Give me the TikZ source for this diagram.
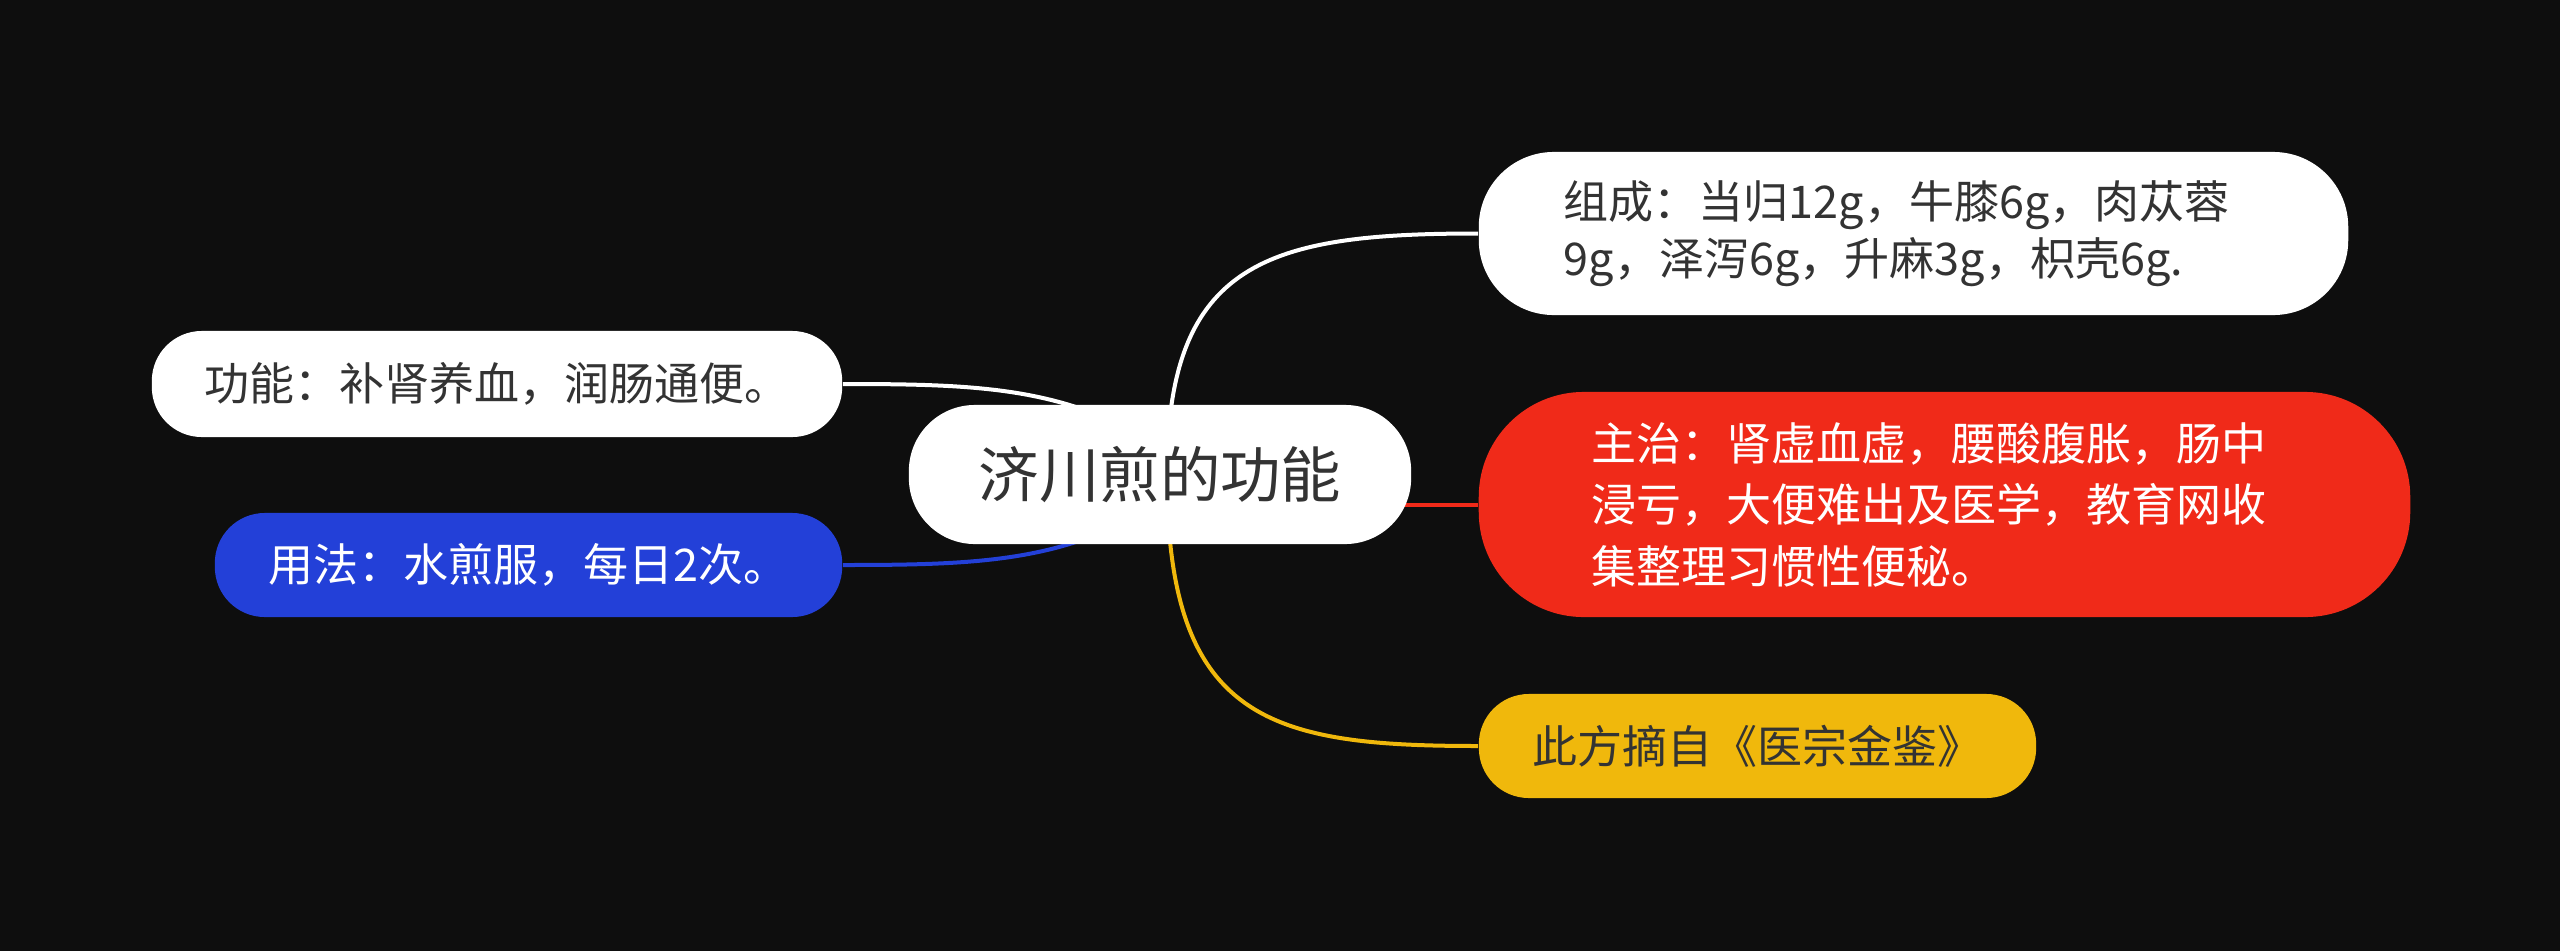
\documentclass[tikz,border=0pt]{standalone}
\usepackage{fontspec}
\setmainfont{Noto Sans CJK SC}
\usetikzlibrary{calc,backgrounds}

\definecolor{bgdark}{HTML}{0E0E0E}
\definecolor{inkgray}{HTML}{333333}
\definecolor{mapred}{HTML}{F02A19}
\definecolor{mapblue}{HTML}{2340D8}
\definecolor{mapyellow}{HTML}{F0B80C}

\begin{document}
\begin{tikzpicture}[
    x=0.01cm,
    y=-0.01cm,
    pill/.style={
        inner sep=0pt,
        rectangle,
        align=left,
        font=\fontsize{12.8pt}{17pt}\selectfont,
    },
    link/.style={
        line width=0.04cm,
    },
]
    % centre topic
    \node[pill,fill=white,text=inkgray,minimum width=5.02cm,minimum height=1.39cm,rounded corners=0.66cm,font=\fontsize{17.2pt}{20pt}\selectfont]
        (title) at (1160,474.5) {济川煎的功能};

    % right branches
    \node[pill,fill=white,text=inkgray,minimum width=8.69cm,minimum height=1.63cm,rounded corners=0.75cm,text width=6.99cm,font=\fontsize{12.8pt}{16.3pt}\selectfont]
        (recipe) at (1913.5,233.5) {组成：当归12g，牛膝6g，肉苁蓉\\9g，泽泻6g，升麻3g，枳壳6g.};
    \node[pill,fill=mapred,text=white,minimum width=9.31cm,minimum height=2.25cm,rounded corners=1.05cm,text width=7.05cm,font=\fontsize{12.8pt}{17.5pt}\selectfont]
        (cure) at (1944.5,504.5) {主治：肾虚血虚，腰酸腹胀，肠中\\浸亏，大便难出及医学，教育网收\\集整理习惯性便秘。};
    \node[pill,fill=mapyellow,text=inkgray,minimum width=5.57cm,minimum height=1.04cm,rounded corners=0.5cm]
        (source) at (1757.5,746) {此方摘自《医宗金鉴》};

    % left branches
    \node[pill,fill=white,text=inkgray,minimum width=6.9cm,minimum height=1.06cm,rounded corners=0.5cm]
        (effect) at (497,384) {功能：补肾养血，润肠通便。};
    \node[pill,fill=mapblue,text=white,minimum width=6.27cm,minimum height=1.04cm,rounded corners=0.5cm]
        (usage) at (528.5,565) {用法：水煎服，每日2次。};

    \begin{scope}[on background layer]
        \fill[bgdark] (0,0) rectangle (2560,951);
        \coordinate (hubR) at ($(title.center)+(7,0)$);
        \coordinate (hubNW) at ($(title.center)+(-40,-50)$);
        \coordinate (hubSW) at ($(title.center)+(-40,50)$);

        \draw[link,white] (hubR) .. controls +(0,-214) and +(-209,0) .. (recipe.west);
        \draw[link,mapred] (title.center |- cure.west) -- (cure.west);
        \draw[link,mapyellow] (hubR) .. controls +(0,246) and +(-209,0) .. (source.west);
        \draw[link,white] (effect.east) .. controls +(118,0) and +(-80,-38) .. (hubNW);
        \draw[link,mapblue] (usage.east) .. controls +(118,0) and +(-80,38) .. (hubSW);
    \end{scope}
\end{tikzpicture}
\end{document}
